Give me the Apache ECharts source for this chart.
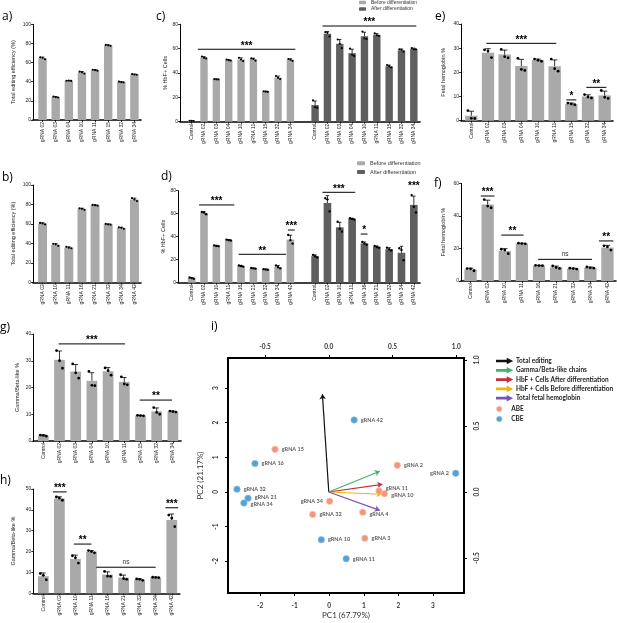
<!DOCTYPE html>
<html>
<head>
<meta charset="utf-8">
<script src="https://cdn.jsdelivr.net/npm/echarts@6/dist/echarts.min.js"></script>
<style>
  html, body { margin: 0; padding: 0; background: #fff; }
  #main { width: 617px; height: 623px; }
</style>
</head>
<body>
<div id="main"></div>
<script>
// replicate values (3 per bar), bar = mean, error bar = SD
const catsA = ['gRNA 02', 'gRNA 03', 'gRNA 04', 'gRNA 10', 'gRNA 11', 'gRNA 15', 'gRNA 32', 'gRNA 34'];
const repsA = [[65.5, 65, 63.5], [24.5, 24, 23.5], [41, 41.2, 40.8], [50.5, 49.8, 48.5], [52.5, 52.2, 51.5], [78.5, 78, 77.5], [40, 39.5, 39.3], [48, 47.5, 47.3]];

const catsB = ['gRNA 02', 'gRNA 10', 'gRNA 11', 'gRNA 16', 'gRNA 21', 'gRNA 32', 'gRNA 34', 'gRNA 42'];
const repsB = [[61, 60.5, 59.5], [39.5, 39, 37.5], [36.5, 35.5, 35], [76, 75.5, 74.5], [79.5, 79.3, 78.7], [60, 59.5, 59.2], [56.5, 56, 55], [86.5, 85, 83.5]];

const catsC = ['Control', 'gRNA 02', 'gRNA 03', 'gRNA 04', 'gRNA 10', 'gRNA 11', 'gRNA 15', 'gRNA 32', 'gRNA 34'];
const repsCBefore = [[0.8, 0.6, 0.5], [53.5, 52.5, 52], [35, 34.8, 34.7], [51, 50.5, 50.2], [52.5, 51, 49.8], [52, 51.5, 50.2], [25, 24.7, 24.5], [37.5, 36, 35], [51.5, 51, 50]];
const repsCAfter = [[17.5, 12, 11.5], [73.5, 73, 70], [67.5, 64, 60.5], [60, 55, 54], [74, 68.5, 68], [72.5, 71, 70.5], [46.5, 45.5, 44.5], [59.5, 59, 57.5], [60.5, 59.5, 59.5]];

const catsD = ['Control', 'gRNA 02', 'gRNA 10', 'gRNA 11', 'gRNA 16', 'gRNA 21', 'gRNA 32', 'gRNA 34', 'gRNA 42'];
const repsDBefore = [[4.5, 4, 3.5], [61.5, 61, 59.5], [32.5, 32, 31.8], [37.5, 37, 36.7], [15, 14.5, 14], [12.8, 12.5, 12.2], [11.8, 11.5, 11.2], [15, 13.5, 12.5], [41.5, 37, 34]];
const repsDAfter = [[24.2, 23, 22], [73.5, 72.5, 62], [53, 47, 44.5], [56, 55.5, 55], [35.5, 34, 33], [32, 31, 30.5], [30.5, 29, 28], [30, 28.5, 19.5], [76, 66, 61]];

const repsE = [[4.2, 1, 0.9], [29.3, 28.8, 26.1], [29.5, 26.5, 26], [25.8, 21.2, 20.8], [25.5, 25, 24.6], [25.5, 21.5, 20.5], [7.3, 6.9, 6.6], [10.8, 9.8, 9.4], [12.5, 9.7, 9.2]];
const repsF = [[7.6, 7.5, 6.3], [50, 46, 45], [19.5, 19, 16.8], [23.2, 23, 22.8], [9.6, 9.5, 9.4], [9.2, 8.3, 7.7], [7.9, 7.6, 7.3], [8.6, 8.1, 7.9], [21.6, 21, 19]];
const repsG = [[2.2, 2.1, 1.8], [33.8, 30, 27.2], [28.8, 25.5, 23.5], [26, 20.8, 20.7], [27.3, 26.3, 24.6], [24, 21.3, 21], [9.6, 9.5, 9.4], [12.5, 10.7, 10], [11.2, 11, 10.8]];
const repsH = [[9.5, 8.6, 6.5], [46.2, 45.6, 44.6], [18, 17, 14.5], [20.5, 20, 19.4], [10.5, 8.2, 8.1], [8.9, 7, 6.7], [6.9, 6.7, 6.2], [7.7, 7.6, 7.5], [37.5, 36, 32]];

// significance bars: [from, to (category units), y, text]; from === to means text only
const sigC = [[0.5, 8.4, 59.5, '***'], [10.6, 18.2, 78.6, '***']];
const sigD = [[0.6, 3.45, 67.6, '***'], [3.8, 7.65, 24.7, '**'], [7.8, 8.35, 45.8, '***'], [10.6, 13.25, 78.6, '***'], [13.7, 14.25, 42.3, '*'], [18, 18, 81, '***']];
const sigE = [[0.9, 5.1, 32, '***'], [5.7, 6.3, 8.6, '*'], [6.9, 8.1, 13.8, '**']];
const sigF = [[0.6, 1.4, 52.2, '***'], [1.8, 3.1, 28.2, '**'], [3.95, 7.1, 13.3, 'ns'], [7.5, 8.35, 24.6, '**']];
const sigG = [[0.95, 5.05, 36.3, '***'], [5.95, 7.95, 15.3, '**']];
const sigH = [[0.6, 1.45, 48.6, '***'], [1.9, 3.0, 23.6, '**'], [3.3, 7.0, 12.5, 'ns'], [7.6, 8.4, 41, '***']];

// PCA biplot
const abePoints = [
  { name: 'gRNA 15', value: [-1.57, 1.23] },
  { name: 'gRNA 2', value: [1.97, 0.77] },
  { name: 'gRNA 11', value: [1.44, 0.03], label: { offset: [0, -3] } },
  { name: 'gRNA 10', value: [1.60, -0.05], label: { offset: [0, 2] } },
  { name: 'gRNA 34', value: [0.01, -0.27], label: { position: 'left' } },
  { name: 'gRNA 32', value: [-0.48, -0.65] },
  { name: 'gRNA 4', value: [0.97, -0.59], label: { offset: [0, 2] } },
  { name: 'gRNA 3', value: [1.03, -1.34] }
];
const cbePoints = [
  { name: 'gRNA 42', value: [0.72, 2.08] },
  { name: 'gRNA 16', value: [-2.15, 0.82] },
  { name: 'gRNA 2', value: [3.66, 0.54], label: { position: 'left' } },
  { name: 'gRNA 32', value: [-2.67, 0.08] },
  { name: 'gRNA 21', value: [-2.35, -0.18], label: { offset: [0, -1] } },
  { name: 'gRNA 34', value: [-2.47, -0.32], label: { offset: [0, 1] } },
  { name: 'gRNA 10', value: [-0.23, -1.38] },
  { name: 'gRNA 11', value: [0.49, -1.93] }
];
const loadNames = ['Total editing', 'Gamma/Beta-like chains', 'HbF + Cells After differentiation', 'HbF + Cells Before differentiation', 'Total fetal hemoglobin'];
const loadColors = ['#111111', '#3cb46e', '#c2303f', '#f5b400', '#7e52b5'];
const loadTips = [[-0.05, 0.74], [0.40, 0.157], [0.42, 0.058], [0.414, -0.017], [0.40, -0.139]];
const pc1Ticks = [-2, -1, 0, 1, 2, 3];
const pc2Ticks = [-2, -1, 0, 1, 2, 3];
const loadTicks = [-0.5, 0, 0.5, 1];

const LIGHT = '#a9a9a9';
const DARK = '#5f5f5f';
const FONT = 'Liberation Sans';
const ABE_STYLE = { color: '#ee7b5a', borderColor: '#f9c8b8', borderWidth: 1 };
const CBE_STYLE = { color: '#2b8ac6', borderColor: '#8fc6ea', borderWidth: 0.8 };

const mean = r => r.reduce((a, b) => a + b, 0) / r.length;
const sd = r => {
  const m = mean(r);
  return Math.sqrt(r.reduce((a, b) => a + (b - m) * (b - m), 0) / (r.length - 1));
};

const option = {
  animation: false,
  textStyle: { fontFamily: FONT },
  title: [], legend: [], grid: [], xAxis: [], yAxis: [], series: []
};

function panel(p) {
  const cats = [];
  const offsets = [];
  p.groups.forEach((g, k) => {
    if (k > 0) cats.push('');
    offsets.push(cats.length);
    cats.push(...p.cats);
  });

  // grid holding the visible y axis and baseline
  const g0 = option.grid.length;
  option.grid.push({ left: p.yx, top: p.top, width: p.left + p.width - p.yx, height: p.height });
  option.xAxis.push({
    gridIndex: g0, type: 'value', min: 0, max: 1,
    axisLine: { show: true, lineStyle: { color: '#000', width: 1.6 } },
    axisTick: { show: false }, axisLabel: { show: false }, splitLine: { show: false }
  });
  option.yAxis.push({
    gridIndex: g0, type: 'value', min: 0, max: p.max, interval: p.interval,
    name: p.yName, nameLocation: 'middle', nameGap: p.nameGap,
    nameTextStyle: { fontSize: 5.5, color: '#222' },
    axisLine: { show: true, lineStyle: { color: '#000', width: 1 } },
    axisTick: { show: true, length: 2, lineStyle: { color: '#000', width: 0.8 } },
    axisLabel: { fontSize: 5, color: '#222', margin: 2 },
    splitLine: { show: false }
  });

  // grid holding the bars
  option.grid.push({ left: p.left, top: p.top, width: p.width, height: p.height });
  const xi = option.xAxis.length;
  option.xAxis.push({
    gridIndex: g0 + 1, type: 'category', data: cats,
    axisLine: { show: false },
    axisTick: { show: true, alignWithLabel: true, length: 2, interval: (i, v) => v !== '', lineStyle: { color: '#000', width: 0.8 } },
    axisLabel: { interval: 0, rotate: 90, fontSize: 5, color: '#222', margin: 2 }
  });
  const yi = option.yAxis.length;
  option.yAxis.push({ gridIndex: g0 + 1, type: 'value', min: 0, max: p.max, show: false });

  const err = [];
  p.groups.forEach((g, k) => {
    const data = cats.map(() => '-');
    g.reps.forEach((r, i) => {
      data[offsets[k] + i] = mean(r);
      err.push([offsets[k] + i, mean(r), sd(r), r[0], r[1], r[2]]);
    });
    option.series.push({
      type: 'bar', name: g.name, xAxisIndex: xi, yAxisIndex: yi, data: data,
      barGap: '-100%', barCategoryGap: p.gap,
      itemStyle: { color: g.color || LIGHT }
    });
  });

  const frac = 1 - parseFloat(p.gap) / 100;
  option.series.push({
    type: 'custom', xAxisIndex: xi, yAxisIndex: yi, data: err, z: 5, clip: false,
    renderItem: function (params, api) {
      const idx = api.value(0), m = api.value(1), s = api.value(2);
      const base = api.coord([idx, m]);
      const top = api.coord([idx, m + s]);
      const bw = api.size([1, 0])[0] * frac;
      const st = { stroke: '#000', lineWidth: 0.8 };
      const children = [
        { type: 'line', shape: { x1: base[0], y1: base[1], x2: top[0], y2: top[1] }, style: st },
        { type: 'line', shape: { x1: top[0] - bw * 0.22, y1: top[1], x2: top[0] + bw * 0.22, y2: top[1] }, style: st }
      ];
      [-0.28, 0, 0.28].forEach(function (o, k) {
        const pt = api.coord([idx, api.value(3 + k)]);
        children.push({ type: 'circle', shape: { cx: pt[0] + o * bw, cy: pt[1], r: p.r }, style: { fill: '#000' } });
      });
      return { type: 'group', children: children };
    }
  });

  if (p.sig) {
    const sig = p.sig;
    option.series.push({
      type: 'custom', xAxisIndex: xi, yAxisIndex: yi, z: 6, clip: false,
      data: sig.map(s => [Math.floor(s[0]), s[2]]),
      renderItem: function (params, api) {
        const s = sig[params.dataIndex];
        const bw = api.size([1, 0])[0];
        const px = v => api.coord([Math.floor(v), s[2]])[0] + (v - Math.floor(v)) * bw;
        const y = api.coord([0, s[2]])[1];
        const x0 = px(s[0]), x1 = px(s[1]);
        const ns = s[3] === 'ns';
        const children = [];
        if (s[1] > s[0]) {
          children.push({ type: 'line', shape: { x1: x0, y1: y, x2: x1, y2: y }, style: { stroke: '#000', lineWidth: 1 } });
        }
        children.push({
          type: 'text',
          style: {
            text: s[3], x: (x0 + x1) / 2, y: ns ? y - 2 : y + 1.5,
            align: 'center', verticalAlign: 'bottom',
            fontSize: ns ? 6.5 : 10, fontWeight: ns ? 'normal' : 'bold',
            fontFamily: FONT, fill: ns ? '#333' : '#000'
          }
        });
        return { type: 'group', children: children };
      }
    });
  }
}

panel({ cats: catsA, groups: [{ reps: repsA }], yx: 33, left: 36, width: 105, top: 24.3, height: 95.7,
  max: 100, interval: 20, yName: 'Total editing efficiency (%)', nameGap: 17, gap: '36%', r: 1.1 });
panel({ cats: catsB, groups: [{ reps: repsB }], yx: 33, left: 36, width: 105, top: 185, height: 97.3,
  max: 100, interval: 20, yName: 'Total editing efficiency (%)', nameGap: 17, gap: '32%', r: 1.1 });
panel({ cats: catsC, groups: [{ reps: repsCBefore, name: 'Before differentiation', color: LIGHT }, { reps: repsCAfter, name: 'After differentiation', color: DARK }],
  yx: 180, left: 185.5, width: 234.5, top: 24.3, height: 97.4, max: 80, interval: 20,
  yName: '% HbF+ Cells', nameGap: 10, gap: '40%', r: 1.1, sig: sigC });
panel({ cats: catsD, groups: [{ reps: repsDBefore, name: 'Before differentiation', color: LIGHT }, { reps: repsDAfter, name: 'After differentiation', color: DARK }],
  yx: 178, left: 185.5, width: 234.5, top: 190.7, height: 92, max: 80, interval: 20,
  yName: '% HbF+ Cells', nameGap: 11, gap: '38%', r: 1.2, sig: sigD });
panel({ cats: catsC, groups: [{ reps: repsE }], yx: 461, left: 463, width: 150, top: 24, height: 96.7,
  max: 40, interval: 10, yName: 'Fetal hemoglobin %', nameGap: 15, gap: '26%', r: 1.4, sig: sigE });
panel({ cats: catsD, groups: [{ reps: repsF }], yx: 461, left: 462, width: 154, top: 183.3, height: 97.7,
  max: 60, interval: 20, yName: 'Fetal hemoglobin %', nameGap: 15, gap: '28%', r: 1.4, sig: sigF });
panel({ cats: catsC, groups: [{ reps: repsG }], yx: 33.3, left: 35.2, width: 145.8, top: 334, height: 107,
  max: 40, interval: 10, yName: 'Gamma/Beta-like %', nameGap: 13, gap: '34%', r: 1.4, sig: sigG });
panel({ cats: catsD, groups: [{ reps: repsH }], yx: 33.3, left: 35.3, width: 144.5, top: 489, height: 104.3,
  max: 50, interval: 10, yName: 'Gamma/Beta-like %', nameGap: 17, gap: '33%', r: 1.4, sig: sigH });

// legends of c) and d)
option.legend.push({
  left: 359, top: 0, orient: 'vertical', padding: 0, itemWidth: 7, itemHeight: 3.5, itemGap: 1.6,
  textStyle: { fontSize: 5, lineHeight: 5, color: '#333' },
  data: ['Before differentiation', 'After differentiation']
});
option.legend.push({
  left: 357, top: 160.3, orient: 'vertical', padding: 0, itemWidth: 8, itemHeight: 4, itemGap: 2.7,
  textStyle: { fontSize: 5.5, lineHeight: 6, color: '#333' },
  data: ['Before differentiation', 'After differentiation']
});

// i) PCA biplot
const gi = option.grid.length;
option.grid.push({ left: 228, top: 358, width: 236, height: 235 });
const boxLine = { show: true, onZero: false, lineStyle: { color: '#000', width: 2 } };
const tickStyle = { length: 3, lineStyle: { color: '#000', width: 1 } };
const lblStyle = { fontSize: 6.5, fontWeight: 'bold', color: '#333', fontFamily: 'Lato' };
const fmt1 = v => Number(v).toFixed(1);
const ixB = option.xAxis.length;
option.xAxis.push({
  gridIndex: gi, type: 'value', position: 'bottom', min: -2.93, max: 3.9,
  name: 'PC1 (67.79%)', nameLocation: 'middle', nameGap: 18,
  nameTextStyle: { fontSize: 8, color: '#333', fontFamily: 'Lato' },
  axisLine: boxLine, axisTick: Object.assign({ customValues: pc1Ticks }, tickStyle),
  axisLabel: Object.assign({ customValues: pc1Ticks, margin: 9 }, lblStyle),
  splitLine: { show: false }
});
const ixT = option.xAxis.length;
option.xAxis.push({
  gridIndex: gi, type: 'value', position: 'top', min: -0.79, max: 1.06,
  axisLine: boxLine, axisTick: Object.assign({ customValues: loadTicks }, tickStyle),
  axisLabel: Object.assign({ customValues: loadTicks, margin: 8, formatter: fmt1 }, lblStyle),
  splitLine: { show: false }
});
const iyL = option.yAxis.length;
option.yAxis.push({
  gridIndex: gi, type: 'value', position: 'left', min: -2.92, max: 3.87,
  name: 'PC2 (21.17%)', nameLocation: 'middle', nameGap: 24,
  nameTextStyle: { fontSize: 8, color: '#333', fontFamily: 'Lato' },
  axisLine: boxLine, axisTick: Object.assign({ customValues: pc2Ticks }, tickStyle),
  axisLabel: Object.assign({ customValues: pc2Ticks, margin: 9, rotate: 90 }, lblStyle),
  splitLine: { show: false }
});
const iyR = option.yAxis.length;
option.yAxis.push({
  gridIndex: gi, type: 'value', position: 'right', min: -0.765, max: 1.015,
  axisLine: boxLine, axisTick: Object.assign({ customValues: loadTicks }, tickStyle),
  axisLabel: Object.assign({ customValues: loadTicks, margin: 9, rotate: 90, formatter: fmt1 }, lblStyle),
  splitLine: { show: false }
});

loadNames.forEach((n, k) => {
  option.series.push({
    type: 'lines', name: n, coordinateSystem: 'cartesian2d', xAxisIndex: ixT, yAxisIndex: iyR,
    symbol: ['none', 'arrow'], symbolSize: 5, z: 3,
    lineStyle: { color: loadColors[k], width: 1.2, opacity: 1, curveness: 0 },
    itemStyle: { color: loadColors[k] },
    data: [{ coords: [[0, 0], loadTips[k]] }]
  });
});

const ptLabel = { show: true, formatter: '{b}', position: 'right', distance: 3, fontSize: 5.5, fontWeight: 'bold', color: '#333', fontFamily: 'Lato' };
option.series.push({
  type: 'scatter', name: 'ABE', xAxisIndex: ixB, yAxisIndex: iyL, symbolSize: 6.5, z: 4,
  itemStyle: ABE_STYLE, label: ptLabel, data: abePoints
});
option.series.push({
  type: 'scatter', name: 'CBE', xAxisIndex: ixB, yAxisIndex: iyL, symbolSize: 6.5, z: 4,
  itemStyle: CBE_STYLE, label: ptLabel, data: cbePoints
});

// i) legend: arrows, then the two editor types
const arrowIcon = 'path://M0,3.6L11.5,3.6L11.5,2.2L15,4L11.5,5.8L11.5,4.4L0,4.4Z';
const legendText = { fontSize: 6.5, lineHeight: 7, fontWeight: 'bold', color: '#222', fontFamily: 'Lato' };
option.legend.push({
  left: 496, top: 357.5, orient: 'vertical', padding: 0, itemWidth: 14, itemHeight: 3.6, itemGap: 2.3,
  textStyle: legendText,
  data: loadNames.map((n, k) => ({ name: n, icon: arrowIcon, itemStyle: { color: loadColors[k] } }))
});
option.legend.push({
  left: 496, top: 405.5, orient: 'vertical', padding: 0, itemWidth: 14, itemHeight: 5.5, itemGap: 3,
  textStyle: legendText,
  data: [
    { name: 'ABE', icon: 'circle', itemStyle: ABE_STYLE },
    { name: 'CBE', icon: 'circle', itemStyle: CBE_STYLE }
  ]
});

// panel letters
const panelLabels = [['a)', 2, 11], ['b)', 2, 172], ['c)', 156, 11], ['d)', 161, 171], ['e)', 435, 11],
  ['f)', 434, 178], ['g)', 0, 322], ['h)', 0, 475], ['i)', 211, 321]];
option.title = panelLabels.map(l => ({
  text: l[0], left: l[1], top: l[2], padding: 0,
  textStyle: { fontSize: 12, fontWeight: 'normal', color: '#000', fontFamily: 'Open Sans' }
}));

const chart = echarts.init(document.getElementById('main'));
chart.setOption(option);
window.addEventListener('resize', function () {
  chart.resize();
});
</script>
</body>
</html>
